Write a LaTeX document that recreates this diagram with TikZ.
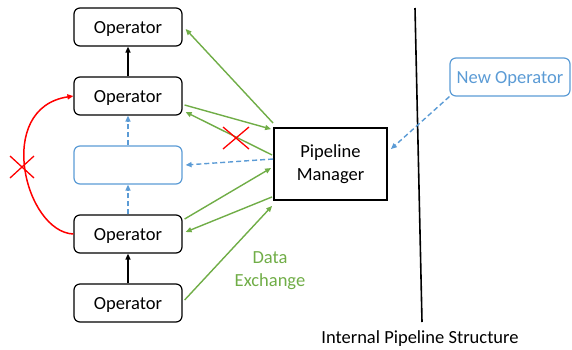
\documentclass[tikz,border=0pt]{standalone}
\usepackage{fontspec}
\setmainfont{Carlito}
\usetikzlibrary{arrows.meta,calc}
\definecolor{grn}{HTML}{70AD47}
\definecolor{blu}{HTML}{5B9BD5}
\tikzset{
  opbox/.style={draw=black, line width=1.2pt, rounded corners=6pt, minimum width=108pt, minimum height=38pt, inner sep=0pt, text depth=0pt, font=\fontsize{18.5}{22}\selectfont},
  bluebox/.style={opbox, draw=blu, text=blu},
  pmbox/.style={draw=black, line width=1.8pt, minimum width=113pt, minimum height=72pt, inner sep=0pt, align=center, font=\fontsize{18.5}{23}\selectfont},
  tip/.style={-{Triangle[length=6pt,width=5pt]}},
  garrow/.style={tip, draw=grn, line width=1.4pt},
  barrow/.style={tip, draw=blu, line width=1.4pt, dash pattern=on 5pt off 3pt},
  karrow/.style={tip, draw=black, line width=1.4pt},
  redx/.style={draw=red, line width=1.3pt},
  lbl/.style={font=\fontsize{18.5}{23}\selectfont, inner sep=0pt, align=center}
}
\begin{document}
\begin{tikzpicture}[x=1pt,y=-1pt]
\useasboundingbox (0,0) rectangle (572,349);
\node[opbox] (op1) at (128,27) {Operator};
\node[opbox] (op2) at (128,96) {Operator};
\node[bluebox] (nb) at (128,165) {};
\node[opbox] (op3) at (128,234) {Operator};
\node[opbox] (op4) at (128,303) {Operator};
\node[pmbox] (pm) at (330.5,164) {\raisebox{-4pt}{\parbox{100pt}{\centering Pipeline\\Manager}}};
\node[bluebox, minimum width=120pt] (newop) at (510,77) {New Operator};
\coordinate (vt) at (415,8);
\coordinate (vb) at (422,322);
\draw[line width=1.6pt] (vt) -- (vb);
\node[lbl] (ips) at (420,339) {Internal Pipeline Structure};
\node[lbl, text=grn] (de) at (270,271) {Data\\Exchange};
% black arrows
\draw[karrow] (op2.north) -- (op1.south);
\draw[karrow] (op4.north) -- (op3.south);
% blue dashed
\draw[barrow] (nb.north) -- (op2.south);
\draw[barrow] (op3.north) -- (nb.south);
\draw[barrow] ($(pm.west)+(0,-5)$) -- ($(nb.east)+(3,0)$);
\draw[barrow] (newop.south west) -- ($(pm.north east)+(3,22)$);
% green arrows
\draw[garrow] ($(pm.north west)+(0,-4)$) -- ($(op1.east)+(3,2)$);
\draw[garrow] ($(op2.east)+(2,9)$) -- ($(pm.north west)+(-2,2)$);
\draw[garrow] ($(pm.west)+(-1,-9)$) -- ($(op2.east)+(3,16)$);
\draw[garrow] ($(op3.east)+(2,-15)$) -- ($(pm.west)+(-2,4)$);
\draw[garrow] ($(pm.south west)+(-1,-4)$) -- ($(op3.east)+(3,-2)$);
\draw[garrow] ($(op4.east)+(2,-3)$) -- ($(pm.south west)+(-1,5)$);
% red curve
\draw[red, line width=1.5pt, tip] (op3.west) .. controls (25,232) and (-6,108) .. (op2.west);
% red crosses
\coordinate (x1) at (236,138);
\draw[redx] ($(x1)+(-13,-11)$) -- ($(x1)+(13,11)$);
\draw[redx] ($(x1)+(-13,11)$) -- ($(x1)+(13,-11)$);
\coordinate (x2) at (22,167);
\draw[redx] ($(x2)+(-12,-11)$) -- ($(x2)+(12,11)$);
\draw[redx] ($(x2)+(-12,11)$) -- ($(x2)+(12,-11)$);
\end{tikzpicture}
\end{document}
